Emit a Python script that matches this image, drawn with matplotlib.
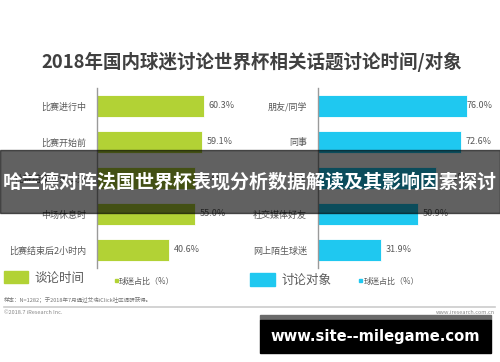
import matplotlib
matplotlib.use("Agg")
import matplotlib.pyplot as plt
from matplotlib.patches import Rectangle

plt.rcParams['font.family'] = ['Noto Sans CJK SC', 'DejaVu Sans']

title = "2018年国内球迷讨论世界杯相关话题讨论时间/对象"
left_cats = ["比赛进行中", "比赛开始前", "比赛结束后第二天", "中场休息时", "比赛结束后2小时内"]
left_vals = [60.3, 59.1, 55.4, 55.0, 40.6]
right_cats = ["朋友/同学", "同事", "家人", "社交媒体好友", "网上陌生球迷"]
right_vals = [76.0, 72.6, 60.1, 50.9, 31.9]
left_legend = "谈论时间"
right_legend = "讨论对象"
series_label = "球迷占比（%）"
note = "样本：N=1282；于2018年7月通过艾瑞iClick社区调研获得。"
copyright_txt = "©2018.7 iResearch Inc."
site_txt = "www.iresearch.com.cn"
overlay_txt = "哈兰德对阵法国世界杯表现分析数据解读及其影响因素探讨"
watermark_txt = "www.site--milegame.com"

GREEN = "#b2d235"
BLUE = "#1fc8f0"
TXT = "#595959"

W, H = 500, 362
fig = plt.figure(figsize=(W / 100, H / 100), dpi=100)
fig.patch.set_facecolor("white")


def px_axes(x0, y0, x1, y1):
    return fig.add_axes([x0 / W, 1 - y1 / H, (x1 - x0) / W, (y1 - y0) / H])


fig.text(252 / W, 1 - 62 / H, title, ha="center", va="center", fontsize=13.3,
         fontweight="bold", color="#404040")


def panel(ax, cats, vals, color, xmax, clamp):
    ys = list(range(len(cats)))
    ax.barh(ys, vals, height=0.62, color=color, edgecolor="white", linewidth=0.6)
    ax.set_xlim(0, xmax)
    ax.set_ylim(4.5, -0.5)
    ax.set_yticks(ys)
    ax.set_yticklabels(cats, fontsize=6.5, color=TXT)
    ax.tick_params(axis="y", length=0, pad=8)
    ax.set_xticks([])
    for s in ["top", "right", "bottom"]:
        ax.spines[s].set_visible(False)
    ax.spines["left"].set_color("#9a9a9a")
    ax.spines["left"].set_linewidth(1.0)
    ax.patch.set_alpha(0)
    for y, v in zip(ys, vals):
        ax.annotate(f"{v:.1f}%", (min(v, clamp), y), xytext=(3.5, 0),
                    textcoords="offset points", va="center", ha="left",
                    fontsize=6.5, color=TXT, annotation_clip=False)


axl = px_axes(97, 88, 240, 268)
panel(axl, left_cats, left_vals, GREEN, 143 / 1.774, 99)
axr = px_axes(318, 88, 495, 268)
panel(axr, right_cats, right_vals, BLUE, 177 / 1.965, 73.0)

# legends
def frect(x0, y0, x1, y1, **kw):
    fig.patches.append(Rectangle((x0 / W, 1 - y1 / H), (x1 - x0) / W, (y1 - y0) / H,
                                 transform=fig.transFigure, **kw))

frect(4, 271, 28, 283, color=GREEN)
fig.text(34 / W, 1 - 278 / H, left_legend, fontsize=9, color=TXT, va="center")
frect(115, 279, 118, 282, color=GREEN)
fig.text(119 / W, 1 - 281 / H, series_label, fontsize=5.8, color=TXT, va="center")
frect(250, 273, 275, 286, color=BLUE)
fig.text(282 / W, 1 - 280 / H, right_legend, fontsize=9, color=TXT, va="center")
frect(359, 279, 362, 282, color=BLUE)
fig.text(364 / W, 1 - 281 / H, series_label, fontsize=5.8, color=TXT, va="center")

fig.text(4 / W, 1 - 300 / H, note, fontsize=4, color="#777777", va="center")
fig.add_artist(plt.Line2D([4 / W, 495 / W], [1 - 307 / H] * 2, color="#cccccc",
                          lw=1.2, transform=fig.transFigure))
fig.text(4 / W, 1 - 312 / H, copyright_txt, fontsize=4, color="#888888", va="center")
fig.text(495 / W, 1 - 312 / H, site_txt, fontsize=4, color="#888888", va="center", ha="right")

# overlay band
frect(0, 150, 500, 213, color="black", alpha=0.62, zorder=10)
fig.text(250 / W, 1 - 182 / H, overlay_txt, ha="center", va="center", fontsize=13.7,
         fontweight="bold", color="white", zorder=11)

# watermark box
frect(260, 315, 491, 320, color="#6b6b6b", zorder=10)
frect(260, 320, 491, 353, color="black", zorder=10)
fig.text(375 / W, 1 - 336 / H, watermark_txt, ha="center", va="center", fontsize=10.6,
         fontweight="bold", color="white", family="DejaVu Sans", zorder=11)

fig.savefig("out.png", dpi=100)
